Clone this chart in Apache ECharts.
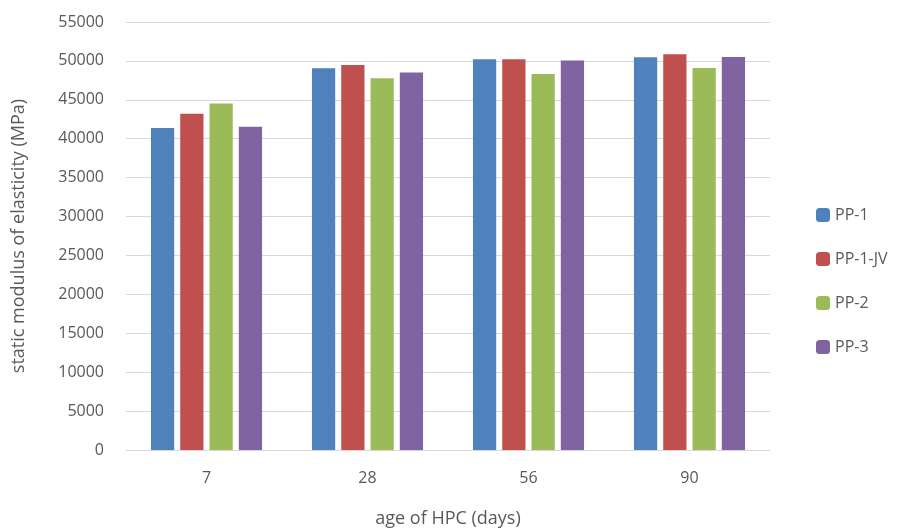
<!DOCTYPE html>
<html><head><meta charset="utf-8">
<script src="https://cdn.jsdelivr.net/npm/echarts@6/dist/echarts.min.js"></script>
<style>html,body{margin:0;padding:0;background:#fff}#c{width:903px;height:532px}</style>
</head><body><div id="c"></div>
<script>
const categories = ['7', '28', '56', '90'];
const seriesNames = ['PP-1', 'PP-1-JV', 'PP-2', 'PP-3'];
const pp1 = [41370, 49060, 50200, 50470];
const pp1jv = [43200, 49490, 50200, 50860];
const pp2 = [44530, 47780, 48330, 49100];
const pp3 = [41540, 48500, 50040, 50510];
const colors = ['#4F81BD', '#C0504D', '#9BBB59', '#8064A2'];
const values = [pp1, pp1jv, pp2, pp3];
const font = 'Open Sans';
const chart = echarts.init(document.getElementById('c'));
chart.setOption({
  animation: false,
  textStyle: { fontFamily: font },
  grid: { left: 126, right: 133, top: 22, bottom: 82, containLabel: false, outerBoundsMode: 'none' },
  legend: {
    orient: 'vertical', left: 811, top: 202,
    itemWidth: 14, itemHeight: 14, itemGap: 28,
    textStyle: { fontSize: 16, color: '#595959', fontFamily: font },
    data: seriesNames
  },
  xAxis: {
    type: 'category', data: categories,
    name: 'age of HPC (days)', nameLocation: 'middle', nameGap: 60,
    nameTextStyle: { fontSize: 18, color: '#595959' },
    axisLine: { lineStyle: { color: '#d9d9d9' } },
    axisTick: { show: false },
    axisLabel: { fontSize: 16, color: '#595959', margin: 20 }
  },
  yAxis: {
    type: 'value', min: 0, max: 55000, interval: 5000,
    name: 'static modulus of elasticity (MPa)', nameLocation: 'middle', nameGap: 98,
    nameTextStyle: { fontSize: 18, color: '#595959' },
    axisLine: { show: false }, axisTick: { show: false },
    axisLabel: { fontSize: 16, color: '#595959', margin: 22, formatter: v => String(v) },
    splitLine: { lineStyle: { color: '#d9d9d9', width: 1 } }
  },
  series: seriesNames.map((n, i) => ({
    name: n, type: 'bar', data: values[i],
    itemStyle: { color: colors[i] },
    barGap: '26%', barCategoryGap: '31%'
  }))
});
</script></body></html>
